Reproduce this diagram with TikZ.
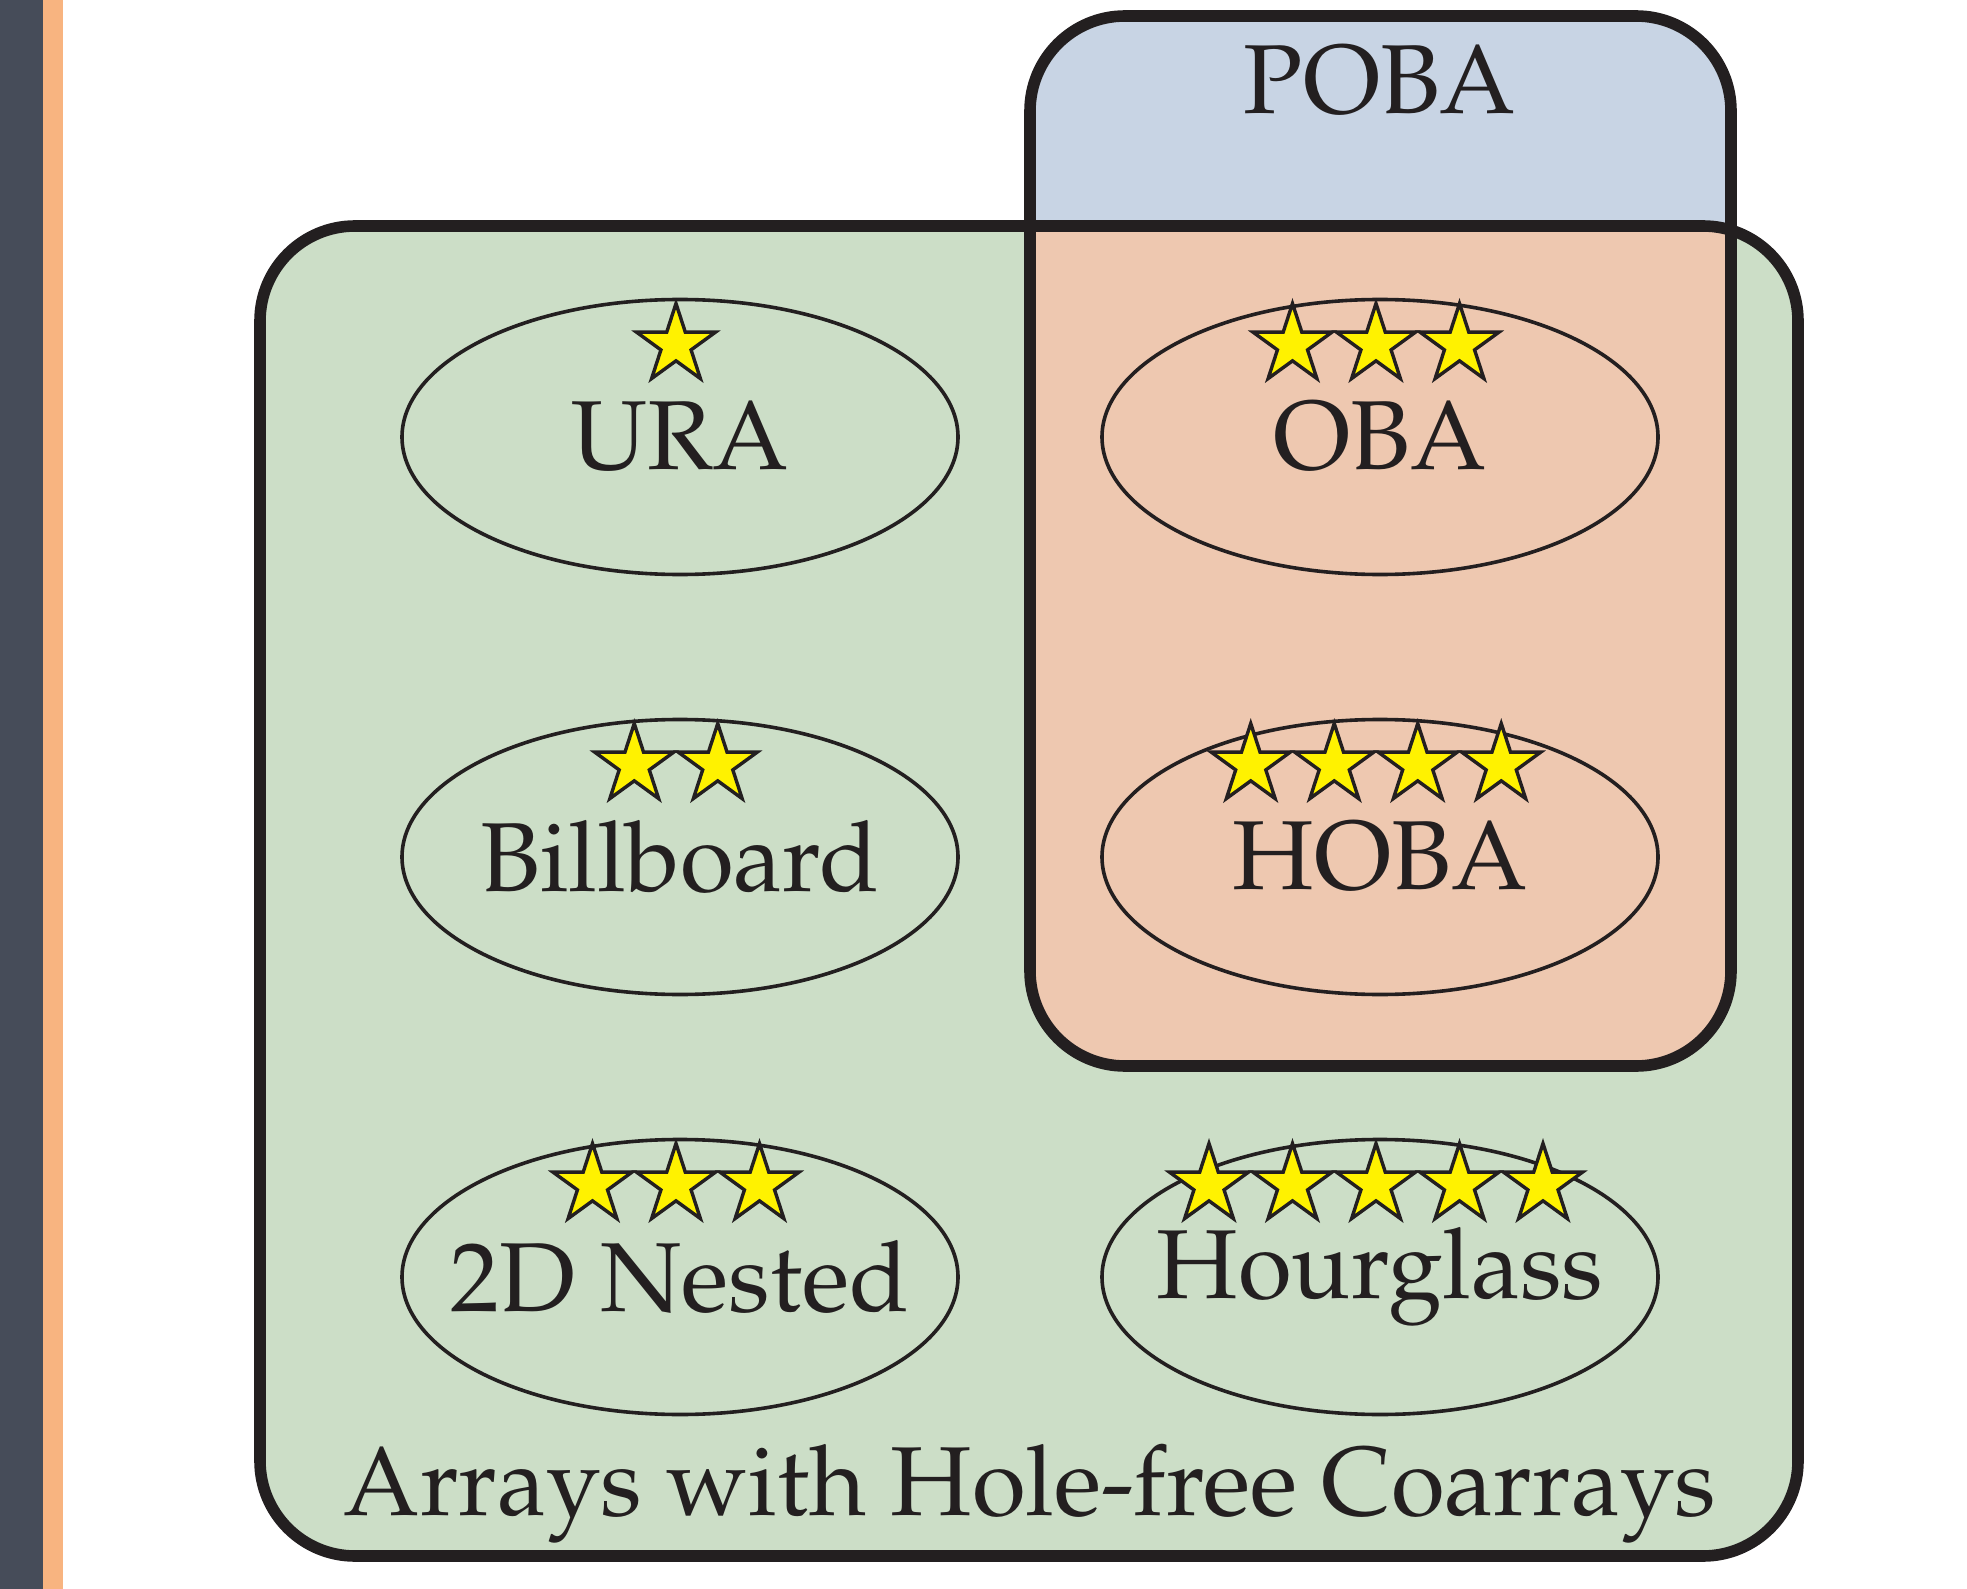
\documentclass[tikz,border=0pt]{standalone}
\usepackage[T1]{fontenc}
\renewcommand{\rmdefault}{ppl}
\usetikzlibrary{shapes.geometric}

\definecolor{ink}{HTML}{231F20}
\definecolor{barslate}{HTML}{464C59}
\definecolor{barorange}{HTML}{F8B480}
\definecolor{greenfill}{HTML}{CCDEC7}
\definecolor{bluefill}{HTML}{C8D4E4}
\definecolor{overlapfill}{HTML}{EEC8B0}
\definecolor{staryellow}{HTML}{FFF200}

\tikzset{
  frame/.style={draw=ink, line width=5.8pt, rounded corners=47.5pt},
  setellipse/.style={ellipse, draw=ink, line width=1.8pt, minimum width=278pt,
    minimum height=137.5pt, inner sep=0pt},
  setname/.style={inner sep=0pt, text=ink, font=\fontsize{49pt}{58pt}\selectfont},
  starbox/.style={star, star points=5, star point ratio=2.618, minimum size=41.5pt,
    inner sep=0pt, draw=ink, fill=staryellow, line width=1.7pt, miter limit=10},
  heading/.style={anchor=base, inner sep=0pt, text=ink,
    font=\fontsize{49pt}{58pt}\selectfont},
}

% a row of n stars above an ellipse centred at (cx,cy)
\newcommand{\starrow}[4]{%
  \foreach \k in {1,...,#4}{%
    \node[starbox] (#1-\k) at ({#2-4+(\k-(#4+1)/2)*83.5},{#3-92}) {};
  }%
}

\begin{document}
\begin{tikzpicture}[x=0.5pt,y=-0.5pt]
  \useasboundingbox (0,0) rectangle (1967,1589);

  % side bars
  \fill[barslate] (0,0) rectangle (43,1589);
  \fill[barorange] (43,0) rectangle (63,1589);

  % corners of the two sets
  \coordinate (hf-nw) at (260,226);
  \coordinate (hf-se) at (1798,1556);
  \coordinate (poba-nw) at (1030,16);
  \coordinate (poba-se) at (1731,1066);

  % fills
  \fill[bluefill, rounded corners=47.5pt] (poba-nw) rectangle (poba-se);
  \fill[greenfill, rounded corners=47.5pt] (hf-nw) rectangle (hf-se);
  \begin{scope}
    \clip[rounded corners=47.5pt] (poba-nw) rectangle (poba-se);
    \fill[overlapfill, rounded corners=47.5pt] (hf-nw) rectangle (hf-se);
  \end{scope}

  % borders
  \draw[frame] (hf-nw) rectangle (hf-se);
  \draw[frame] (poba-nw) rectangle (poba-se);

  % set labels
  \node[heading] (poba-label) at (1380,114) {POBA};
  \node[heading] (hf-label) at (1030,1515) {Arrays with Hole-free Coarrays};

  % array families
  \node[setellipse] (ura) at (680,437) {};
  \node[setellipse] (oba) at (1380,437) {};
  \node[setellipse] (billboard) at (680,857) {};
  \node[setellipse] (hoba) at (1380,857) {};
  \node[setellipse] (nested) at (680,1277) {};
  \node[setellipse] (hourglass) at (1380,1277) {};

  \node[setname] (ura-name) at (ura.center) {URA};
  \node[setname] (oba-name) at (oba.center) {OBA};
  \node[setname] (billboard-name) at (billboard.center) {Billboard};
  \node[setname] (hoba-name) at (hoba.center) {HOBA};
  \node[setname] (nested-name) at (nested.center) {2D Nested};
  \node[setname] (hourglass-name) at (hourglass.center) {Hourglass};

  % ratings
  \starrow{ura-star}{680}{437}{1}
  \starrow{oba-star}{1380}{437}{3}
  \starrow{billboard-star}{680}{857}{2}
  \starrow{hoba-star}{1380}{857}{4}
  \starrow{nested-star}{680}{1277}{3}
  \starrow{hourglass-star}{1380}{1277}{5}
\end{tikzpicture}
\end{document}
